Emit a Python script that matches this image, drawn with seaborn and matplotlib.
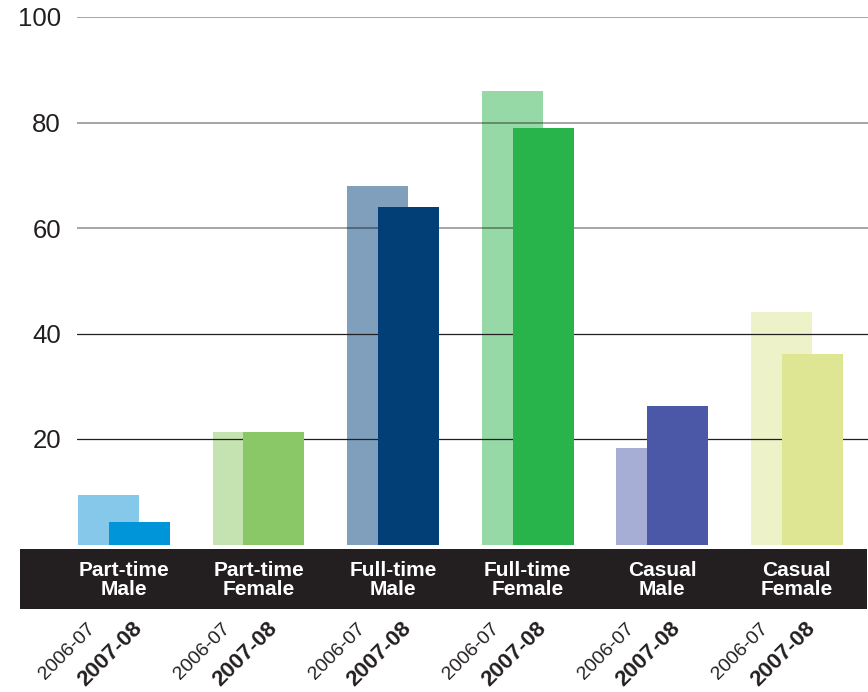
import numpy as np
import pandas as pd
import matplotlib
matplotlib.use("Agg")
import matplotlib.pyplot as plt
import matplotlib.transforms as mtransforms
from matplotlib.patches import Rectangle
import seaborn as sns

# Share of employees by employment type and sex, two reporting years
categories = ["Part-time\nMale", "Part-time\nFemale", "Full-time\nMale",
              "Full-time\nFemale", "Casual\nMale", "Casual\nFemale"]
year_prev = "2006-07"
year_curr = "2007-08"
values_prev = [9.4, 21.3, 68.0, 86.0, 18.3, 44.1]
values_curr = [4.3, 21.3, 64.0, 79.0, 26.3, 36.1]
colors_prev = ["#85c8ea", "#c5e3b1", "#7f9fbd", "#97d9a6", "#a7aed5", "#edf2c9"]
colors_curr = ["#0095d8", "#8ac867", "#023f77", "#28b34b", "#4a58a7", "#dfe693"]
y_ticks = [20, 40, 60, 80, 100]

sns.set_theme(style="white")
plt.rcParams["font.family"] = ["Liberation Sans", "DejaVu Sans"]

W, H = 868, 692
fig = plt.figure(figsize=(W / 100, H / 100), dpi=100)
ax = fig.add_axes([77 / W, 1 - 544.5 / H, 791 / W, 527.5 / H])

pos = np.arange(len(categories))
shift = 0.115
bar_w = 0.4535
df = pd.DataFrame({
    "category": categories,
    "x_prev": pos - shift,
    "x_curr": pos + shift,
    "prev": values_prev,
    "curr": values_curr,
})

# earlier year: pale bars behind the gridlines
sns.barplot(data=df, x="x_prev", y="prev", hue="category", palette=colors_prev,
            native_scale=True, dodge=False, width=bar_w, saturation=1,
            errorbar=None, legend=False, ax=ax, zorder=1, linewidth=0)
# current year: solid bars in front of the gridlines
sns.barplot(data=df, x="x_curr", y="curr", hue="category", palette=colors_curr,
            native_scale=True, dodge=False, width=bar_w, saturation=1,
            errorbar=None, legend=False, ax=ax, zorder=3, linewidth=0)

for t in y_ticks:
    if t >= 60:
        ax.axhline(t, color="#000000", alpha=0.45, lw=1.1, zorder=2)
    else:
        ax.axhline(t, color="#231f20", lw=0.9, zorder=2)

ax.set_xlim(-0.349, 5.53)
ax.set_ylim(0, 100)
ax.set_xticks([])
ax.set_yticks(y_ticks)
ax.set_yticklabels([str(t) for t in y_ticks], fontsize=18.5, color="#231f20")
ax.tick_params(axis="y", length=0, pad=11.5)
ax.set_xlabel("")
ax.set_ylabel("")
for s in ax.spines.values():
    s.set_visible(False)

# dark category band under the plot
band = Rectangle((20 / W, 1 - 609 / H), 847 / W, 60 / H, transform=fig.transFigure,
                 facecolor="#231f20", edgecolor="none", zorder=4, clip_on=False)
ax.add_patch(band)

blend = mtransforms.blended_transform_factory(ax.transData, fig.transFigure)
for i, cat in enumerate(categories):
    ax.text(pos[i], 1 - 580 / H, cat, transform=blend, ha="center", va="center",
            color="white", fontsize=15, fontweight="bold", linespacing=1.0,
            clip_on=False, zorder=5)
    ax.text(pos[i] - 0.23, 1 - 626 / H, year_prev, transform=blend,
            ha="right", va="center", rotation=45, rotation_mode="anchor",
            color="#231f20", fontsize=14, clip_on=False)
    ax.text(pos[i] + 0.115, 1 - 625 / H, year_curr, transform=blend,
            ha="right", va="center", rotation=45, rotation_mode="anchor",
            color="#231f20", fontsize=16, fontweight="bold", clip_on=False)

fig.savefig("out.png", dpi=100)
